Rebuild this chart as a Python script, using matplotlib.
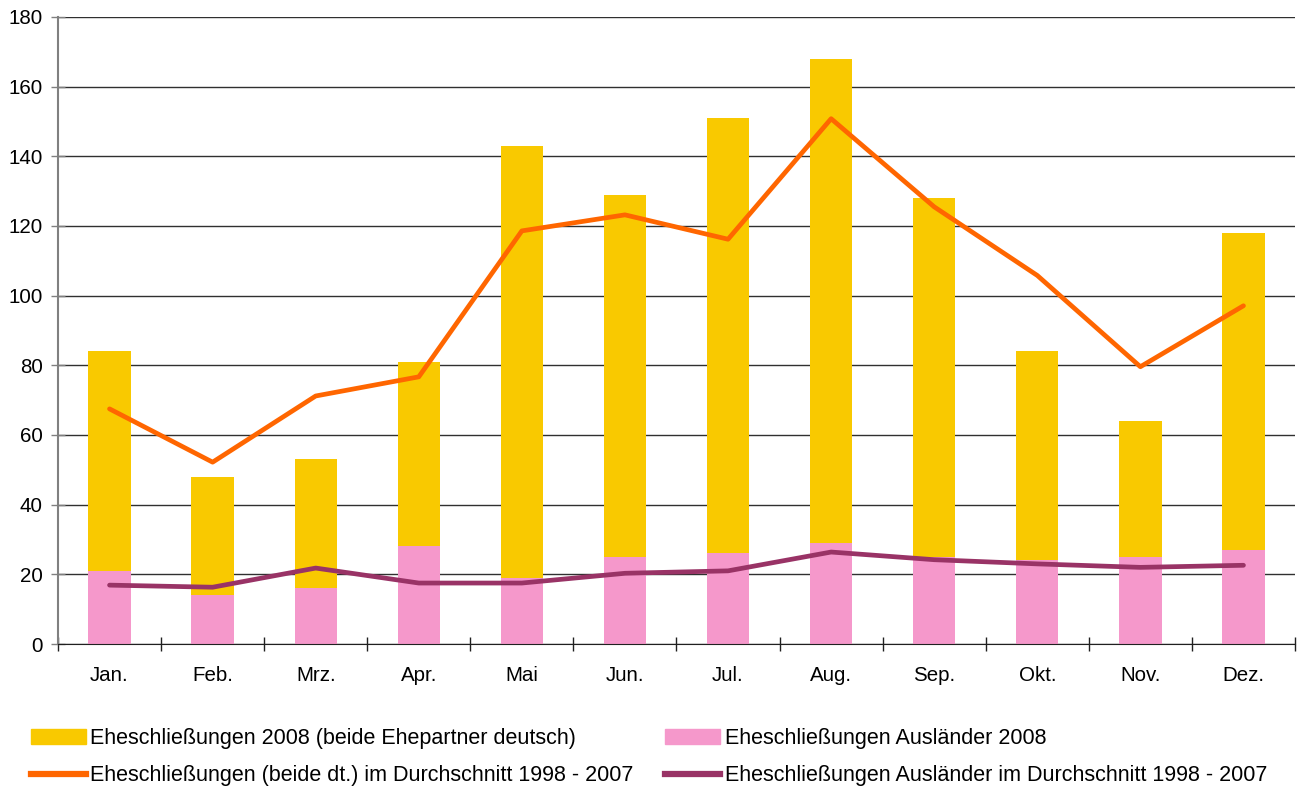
import numpy as np
from matplotlib import pyplot as plt
from matplotlib.lines import Line2D
from matplotlib.patches import Patch

plt.rcParams["font.family"] = ["Liberation Sans", "DejaVu Sans"]

monate = ["Jan.", "Feb.", "Mrz.", "Apr.", "Mai", "Jun.", "Jul.", "Aug.", "Sep.", "Okt.", "Nov.", "Dez."]
deutsch_2008 = [63, 34, 37, 53, 124, 104, 125, 139, 103, 60, 39, 91]
auslaender_2008 = [21, 14, 16, 28, 19, 25, 26, 29, 25, 24, 25, 27]
deutsch_mittel = [67.5, 52.2, 71.2, 76.7, 118.6, 123.2, 116.2, 150.8, 125.5, 105.8, 79.6, 97.1]
auslaender_mittel = [16.9, 16.3, 21.8, 17.5, 17.5, 20.3, 21.0, 26.4, 24.2, 23.0, 22.0, 22.6]

c_gelb = "#F9C900"
c_rosa = "#F598CB"
c_orange = "#FF6600"
c_lila = "#993366"

fig = plt.figure(figsize=(13.01, 7.89), dpi=100)
ax = fig.add_axes([58 / 1301, 145 / 789, 1237 / 1301, 627 / 789])

x = np.arange(len(monate))
ax.bar(x, auslaender_2008, width=0.41, color=c_rosa, zorder=2)
ax.bar(x, deutsch_2008, width=0.41, bottom=auslaender_2008, color=c_gelb, zorder=2)
ax.plot(x, deutsch_mittel, color=c_orange, lw=3.4, solid_capstyle="round", zorder=3)
ax.plot(x, auslaender_mittel, color=c_lila, lw=3.4, solid_capstyle="round", zorder=3)

ax.set_xlim(-0.5, len(monate) - 0.5)
ax.set_ylim(0, 180)
ax.set_yticks(np.arange(0, 181, 20))
ax.yaxis.grid(True, color="#303030", lw=1)
ax.set_axisbelow(True)

ax.set_xticks(np.arange(len(monate) + 1) - 0.5)
ax.set_xticklabels([])
ax.set_xticks(x, minor=True)
ax.set_xticklabels(monate, minor=True)
ax.tick_params(axis="x", which="major", direction="inout", length=10, width=1, color="#202020")
ax.tick_params(axis="x", which="minor", length=0, pad=15.5, labelsize=14.8)
ax.tick_params(axis="y", direction="inout", length=10, width=1, color="#808080", labelsize=14.8, pad=6)

for s in ["top", "right"]:
    ax.spines[s].set_visible(False)
ax.spines["left"].set_color("#808080")
ax.spines["left"].set_linewidth(1.5)
ax.spines["bottom"].set_color("#202020")

handles = [
    Patch(color=c_gelb),
    Line2D([], [], color=c_orange, lw=4.5),
    Patch(color=c_rosa),
    Line2D([], [], color=c_lila, lw=4.5),
]
labels = [
    "Eheschließungen 2008 (beide Ehepartner deutsch)",
    "Eheschließungen (beide dt.) im Durchschnitt 1998 - 2007",
    "Eheschließungen Ausländer 2008",
    "Eheschließungen Ausländer im Durchschnitt 1998 - 2007",
]
fig.legend(handles, labels, ncol=2, loc="upper left", bbox_to_anchor=(22 / 1301, 1 - 719 / 789),
           frameon=False, fontsize=15.5, handlelength=2.55, handleheight=0.7, handletextpad=0.2,
           columnspacing=1.5, labelspacing=0.78, borderaxespad=0)

fig.savefig("out.png", dpi=100)
